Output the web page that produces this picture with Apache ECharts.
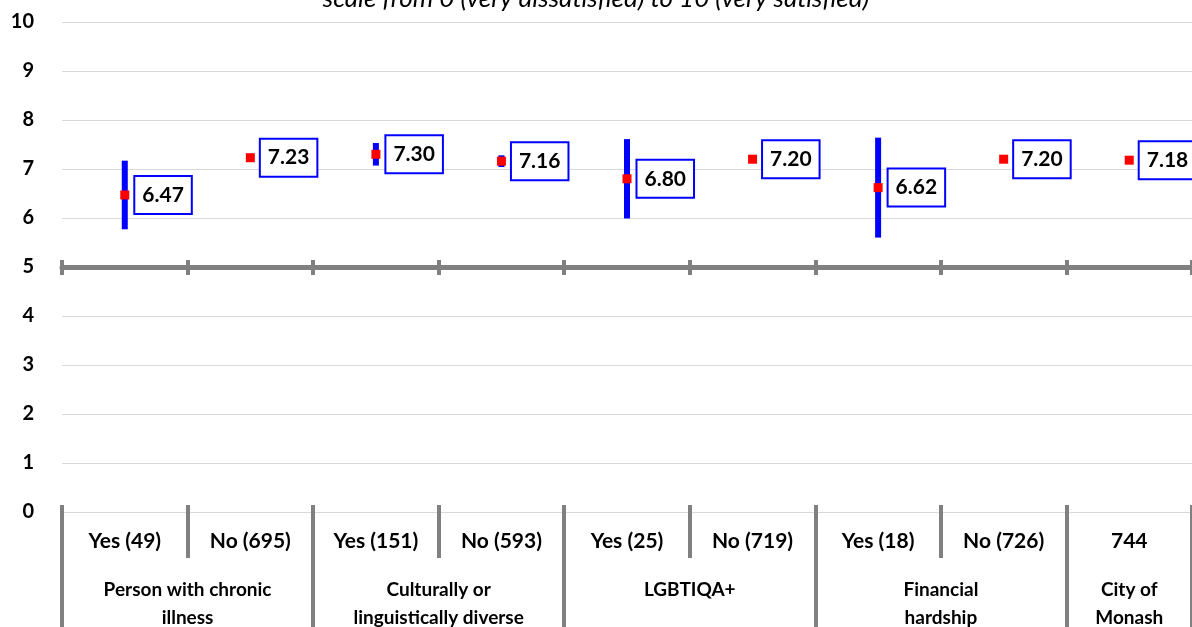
<!DOCTYPE html>
<html><head><meta charset="utf-8">
<script src="https://cdn.jsdelivr.net/npm/echarts@6/dist/echarts.min.js"></script>
<style>html,body{margin:0;padding:0;background:#fff}#c{width:1192px;height:627px}</style>
</head><body><div id="c"></div>
<script>
const categories = ['Yes (49)','No (695)','Yes (151)','No (593)','Yes (25)','No (719)','Yes (18)','No (726)','744'];
const groups = ['Person with chronic\nillness','Culturally or\nlinguistically diverse','LGBTIQA+','Financial\nhardship','City of\nMonash'];
const groupCenters = [1,3,5,7,8.5];
const groupEdges = [0,2,4,6,8,9];
const means = [6.47,7.23,7.30,7.16,6.80,7.20,6.62,7.20,7.18];
const lower = [5.77,7.15,7.07,7.04,5.99,7.15,5.60,7.14,7.13];
const upper = [7.17,7.31,7.53,7.28,7.61,7.25,7.64,7.26,7.23];
const yTicks = [0,1,2,3,4,5,6,7,8,9,10];
const titleText = 'scale from 0 (very dissatisfied) to 10 (very satisfied)';

const FONT = 'Lato';
const GRAY = '#808080';
const chart = echarts.init(document.getElementById('c'));
const gridLeft = 62, gridRight = 0, gridTop = 22, gridBottom = 115;
chart.setOption({
  animation: false,
  backgroundColor: '#fff',
  textStyle: {fontFamily: FONT},
  title: {text: titleText, left: 'center', top: -19,
    textStyle: {fontFamily: FONT, fontStyle: 'italic', fontWeight: 'normal', fontSize: 26, color: '#000'}},
  grid: [
    {left: gridLeft, right: gridRight, top: gridTop, bottom: gridBottom, outerBoundsMode: 'none', containLabel: false},
    {left: gridLeft, right: gridRight, top: gridTop, bottom: 360, outerBoundsMode: 'none', containLabel: false}
  ],
  xAxis: [
    {type: 'category', data: categories, gridIndex: 0, position: 'bottom',
      axisLine: {show: true, onZero: false, lineStyle: {color: '#d9d9d9', width: 1}},
      axisTick: {show: true, length: 46, lineStyle: {color: GRAY, width: 4}},
      axisLabel: {fontFamily: FONT, fontWeight: 'bold', fontSize: 21, color: '#000', margin: 19, interval: 0}},
    {type: 'value', gridIndex: 0, position: 'bottom', min: 0, max: 9,
      axisLine: {show: false}, splitLine: {show: false},
      axisTick: {show: true, customValues: groupEdges, length: 115, lineStyle: {color: GRAY, width: 4}},
      axisLabel: {customValues: groupCenters, margin: 64, fontFamily: FONT, fontWeight: 'bold', fontSize: 19, lineHeight: 28, color: '#000',
        formatter: v => { const i = groupCenters.indexOf(v); return i >= 0 ? groups[i] : ''; }}},
    {type: 'category', data: categories, gridIndex: 0, position: 'bottom',
      axisLine: {show: false, onZero: false},
      axisTick: {show: true, inside: true, length: 7, lineStyle: {color: GRAY, width: 4}},
      axisLabel: {show: false}},
    {type: 'category', data: categories, gridIndex: 1, position: 'bottom',
      axisLine: {show: true, onZero: false, lineStyle: {color: GRAY, width: 5}},
      axisTick: {show: true, length: 8, lineStyle: {color: GRAY, width: 4}},
      axisLabel: {show: false}},
    {type: 'category', data: categories, gridIndex: 1, position: 'bottom',
      axisLine: {show: false, onZero: false},
      axisTick: {show: true, inside: true, length: 7, lineStyle: {color: GRAY, width: 4}},
      axisLabel: {show: false}}
  ],
  yAxis: [
    {type: 'value', gridIndex: 0, min: yTicks[0], max: yTicks[yTicks.length-1], interval: 1,
      axisLine: {show: false}, axisTick: {show: false},
      splitLine: {show: true, lineStyle: {color: '#d9d9d9', width: 1}},
      axisLabel: {fontFamily: FONT, fontWeight: 'bold', fontSize: 20, color: '#000', margin: 28}},
    {type: 'value', gridIndex: 1, min: 5, max: 10, show: false}
  ],
  series: [
    {type: 'custom', xAxisIndex: 0, yAxisIndex: 0, z: 3,
      data: categories.map((c, i) => [i, lower[i], upper[i]]),
      renderItem: (params, api) => {
        const a = api.coord([api.value(0), api.value(1)]);
        const b = api.coord([api.value(0), api.value(2)]);
        return {type: 'line', shape: {x1: a[0], y1: a[1], x2: b[0], y2: b[1]},
          style: {stroke: '#0000ff', lineWidth: 6}};
      }},
    {type: 'scatter', xAxisIndex: 0, yAxisIndex: 0, z: 5,
      data: means.map((v, i) => [i, v]),
      symbol: 'rect', symbolSize: 9,
      itemStyle: {color: '#ff0000', opacity: 1},
      label: {show: true, position: 'right', distance: 6,
        formatter: p => p.value[1].toFixed(2),
        fontFamily: FONT, fontWeight: 'bold', fontSize: 21, color: '#000',
        backgroundColor: '#fff', borderColor: '#0000ff', borderWidth: 2,
        padding: [8, 7, 7, 7]}}
  ]
});
</script></body></html>
